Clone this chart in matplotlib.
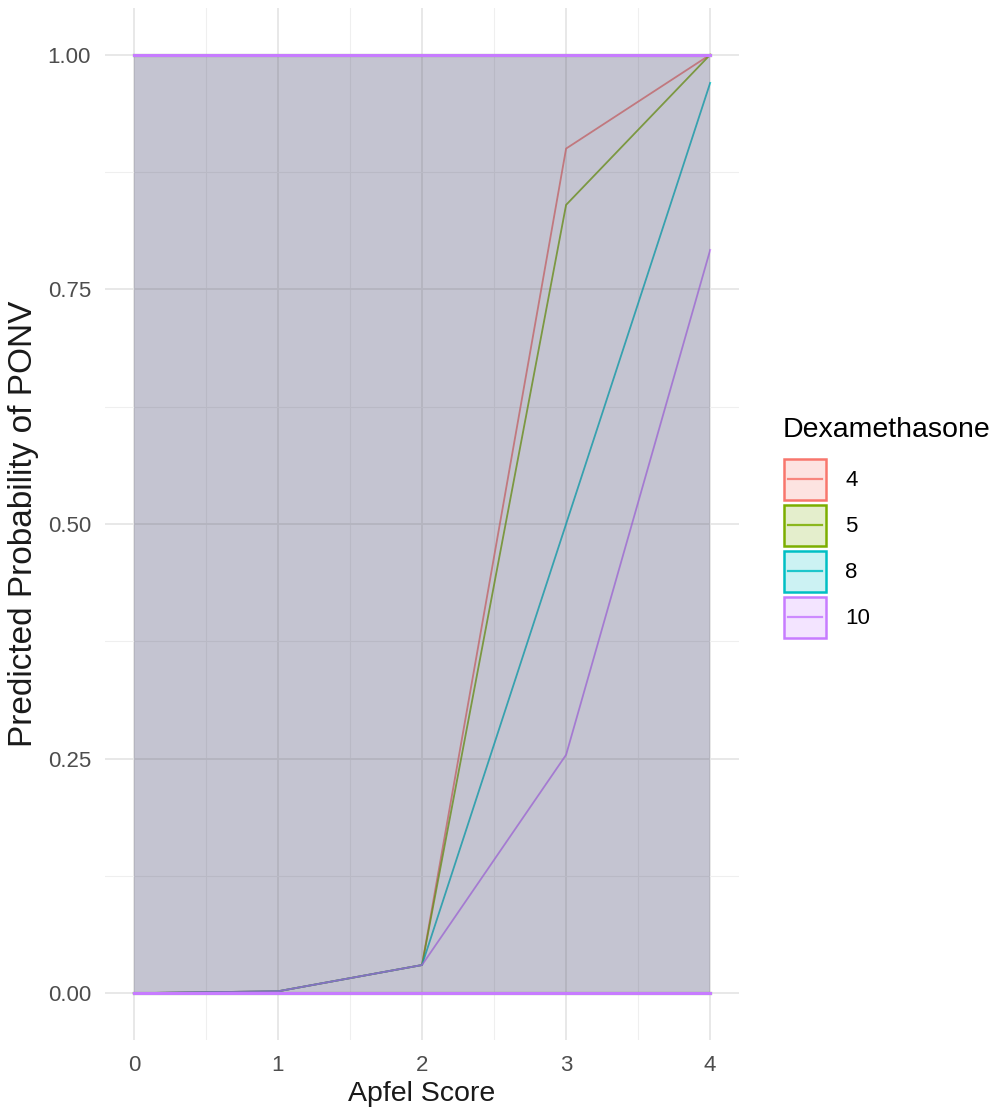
import numpy as np
import matplotlib.pyplot as plt
from matplotlib.patches import Rectangle
from matplotlib.lines import Line2D

plt.rcParams['font.family'] = ['Liberation Sans', 'DejaVu Sans']

apfel = [0, 1, 2, 3, 4]
dex_levels = ['4', '5', '8', '10']
prob_4 = [0.0, 0.002, 0.03, 0.90, 1.00]
prob_5 = [0.0, 0.002, 0.03, 0.84, 1.00]
prob_8 = [0.0, 0.002, 0.03, 0.50, 0.97]
prob_10 = [0.0, 0.002, 0.03, 0.254, 0.792]
ribbon_lo = [0, 0, 0, 0, 0]
ribbon_hi = [1, 1, 1, 1, 1]

cols = ['#F8766D', '#7CAE00', '#00BFC4', '#C77CFF']
series = [prob_4, prob_5, prob_8, prob_10]


class KeyHandler:
    # ggplot style key: light filled box with coloured border and a line across
    def __init__(self, color):
        self.color = color

    def legend_artist(self, legend, orig_handle, fontsize, handlebox):
        x0, y0 = handlebox.xdescent, handlebox.ydescent
        w, h = handlebox.width, handlebox.height
        box = Rectangle((-x0 + 1, -y0 + 1), w - 2, h - 2, facecolor=self.color,
                        alpha=0.2, edgecolor='none', transform=handlebox.get_transform())
        edge = Rectangle((-x0 + 1, -y0 + 1), w - 2, h - 2, facecolor='none',
                         edgecolor=self.color, lw=1.8, transform=handlebox.get_transform())
        ym = -y0 + h / 2
        ln = Line2D([-x0 + 4, -x0 + w - 4], [ym, ym], color=self.color, lw=1.6,
                    alpha=0.85, transform=handlebox.get_transform())
        handlebox.add_artist(box)
        handlebox.add_artist(edge)
        handlebox.add_artist(ln)
        return edge


fig = plt.figure(figsize=(10, 11.16), dpi=100)
ax = fig.add_axes([0.105, 0.068, 0.634, 0.925])

# lines under the ribbons (they look washed out in the original)
for s, c in zip(series, cols):
    ax.plot(apfel, s, color=c, lw=1.3, alpha=0.8, zorder=2)

# one ribbon per group, grey fill, last one's outline ends on top
for i, c in enumerate(cols):
    ax.fill_between(apfel, ribbon_lo, ribbon_hi, facecolor='#44446a', alpha=0.085,
                    edgecolor='none', zorder=3)
for c in cols:
    ax.plot(apfel, ribbon_lo, color=c, lw=2.2, zorder=4)
    ax.plot(apfel, ribbon_hi, color=c, lw=2.2, zorder=4)

ax.set_xlim(-0.2, 4.2)
ax.set_ylim(-0.05, 1.05)
ax.set_xticks([0, 1, 2, 3, 4])
ax.set_yticks([0, 0.25, 0.5, 0.75, 1.0])
ax.set_yticklabels(['0.00', '0.25', '0.50', '0.75', '1.00'])
ax.set_xticks(np.arange(0.5, 4, 1), minor=True)
ax.set_yticks(np.arange(0.125, 1, 0.25), minor=True)
ax.grid(which='major', color='#e6e6e6', lw=1.3, zorder=0)
ax.grid(which='minor', color='#efefef', lw=0.8, zorder=0)
ax.set_axisbelow(True)
for sp in ax.spines.values():
    sp.set_visible(False)
ax.tick_params(which='both', length=0, labelsize=16, labelcolor='#4d4d4d')
ax.tick_params(axis='x', pad=11)
ax.tick_params(axis='y', pad=10)

ax.set_xlabel('Apfel Score', fontsize=20.5, color='#1a1a1a', labelpad=3)
ax.set_ylabel('Predicted Probability of PONV', fontsize=24, color='#1a1a1a', labelpad=6)

proxies = [Rectangle((0, 0), 1, 1) for c in cols]
leg = fig.legend(proxies, dex_levels, title='Dexamethasone', loc='upper left',
                 bbox_to_anchor=(0.774, 0.634), frameon=False, fontsize=16,
                 title_fontsize=20.5, handlelength=2.0, handleheight=2.67,
                 labelspacing=0.09, handletextpad=0.8, borderaxespad=0,
                 handler_map={p: KeyHandler(c) for p, c in zip(proxies, cols)})
leg._legend_box.align = 'left'
leg._legend_box.sep = 10

fig.savefig('out.png', dpi=100)
